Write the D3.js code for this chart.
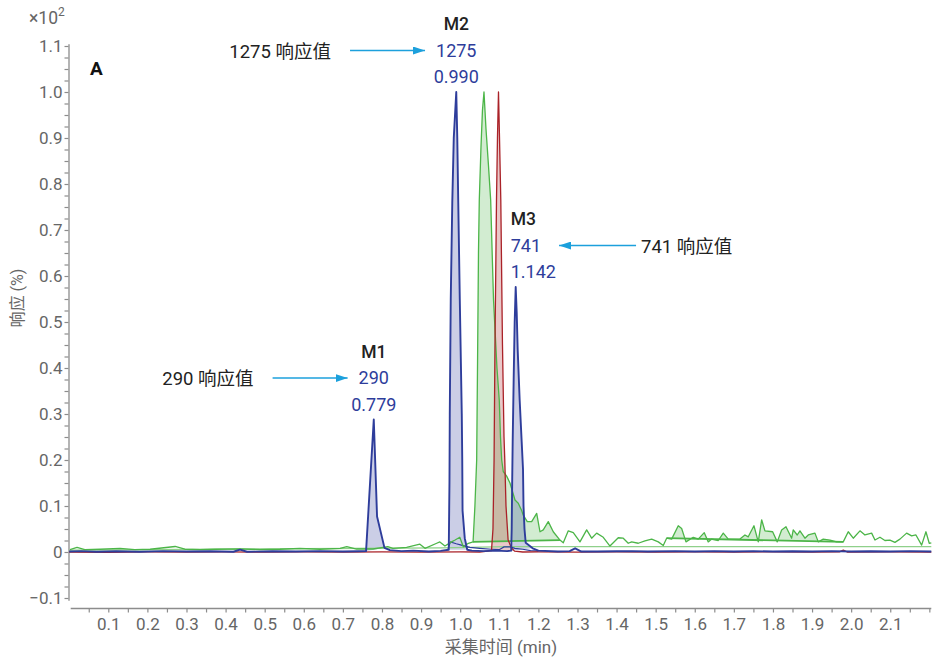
<!DOCTYPE html>
<html>
<head>
<meta charset="utf-8">
<script src="https://cdn.jsdelivr.net/npm/d3@7"></script>
<style>
  html, body { margin: 0; padding: 0; background: #fff; }
  svg { display: block; font-family: Roboto, "Noto Sans CJK SC", sans-serif; }
</style>
</head>
<body>
<svg id="chart" width="932" height="660"></svg>
<script>
// Retention time (min) / response (% of base peak) pairs for each trace
const traceBlue = [
  [0,0.1],[0.03,0.2],[0.07,0.05],[0.12,0.15],[0.18,0.05],[0.24,0.2],[0.3,0.1],[0.36,0.15],
  [0.42,0.05],[0.437,0.5],[0.455,0.05],[0.52,0.15],[0.58,0.1],[0.64,0.2],[0.7,0.1],[0.74,0.15],
  [0.7593,0.2],[0.779,28.8],[0.7874,7.7],[0.8064,0.9],[0.82,0.4],[0.85,0.2],[0.88,0.3],[0.92,0.1],
  [0.95,0.25],[0.9708,0.5],[0.9726,15],[0.9734,30],[0.9759,55],[0.9798,76],[0.9836,90],[0.990,100],
  [0.9926,90],[0.9951,76],[0.999,55],[1.0041,30],[1.0053,20],[1.0061,9],[1.0117,3],[1.0181,0.5],
  [1.03,0.3],[1.06,0.2],[1.09,0.3],[1.12,0.2],[1.1305,0.3],[1.1318,5],[1.133,15],[1.1343,24],
  [1.1369,38],[1.1394,50],[1.142,57.6],[1.1446,52],[1.1471,44],[1.1522,33],[1.1573,24],[1.1607,18],
  [1.162,10],[1.1645,5],[1.1676,2],[1.1855,0.8],[1.2,0.3],[1.25,0.1],[1.28,0.2],[1.294,0.8],
  [1.31,0.1],[1.35,0.1],[1.4,0.15],[1.44,0.2],[1.48,0.1],[1.55,0.2],[1.6,0.1],[1.65,0.2],[1.7,0.1],
  [1.75,0.2],[1.8,0.1],[1.85,0.15],[1.9,0.1],[1.95,0.2],[2.0,0.1],[2.05,0.15],[2.1,0.1],[2.15,0.2],[2.205,0.1]
];

const blueAux = [
  [0.968,0.4],[0.975,2.2],[0.99,1.8],[1.003,1.5],[1.025,1.0],[1.05,0.8],[1.08,0.6],[1.1,0.5],
  [1.112,1.1],[1.128,1.1],[1.14,0.8],[1.16,0.6],[1.18,0.3],[1.2,0.2]
];

const traceGreen = [
  [0.002,0.5],[0.02,1.0],[0.04,0.5],[0.079,0.6],[0.13,0.8],[0.168,0.5],[0.207,0.6],[0.271,1.2],
  [0.296,0.6],[0.335,0.5],[0.373,0.6],[0.437,0.7],[0.488,0.5],[0.539,0.6],[0.59,0.8],[0.641,0.6],
  [0.693,0.8],[0.71,1.15],[0.735,0.65],[0.777,0.65],[0.815,1.15],[0.828,0.8],[0.863,1.0],[0.897,1.7],
  [0.91,0.8],[0.94,1.9],[0.948,2.2],[0.961,1.3],[0.978,2.2],[0.987,2.6],[0.999,3.2],[1.008,1.15],
  [1.021,1.9],[1.033,2.2],[1.0377,10],[1.0422,20],[1.0443,40],[1.0468,65],[1.0489,76.5],[1.0532,88],
  [1.057,96],[1.0609,100],[1.066,92],[1.0724,84],[1.078,76.5],[1.0852,55],[1.0941,40],[1.1,33],
  [1.1031,25],[1.1062,20],[1.1102,17.5],[1.1189,16.5],[1.1274,15],[1.1402,11.3],[1.1486,10.6],
  [1.1573,9],[1.1614,8],[1.1716,6.6],[1.1829,6.6],[1.1957,8.4],[1.2041,4.4],[1.2125,4.8],[1.2253,6.6],
  [1.2381,4.4],[1.2552,2.6],[1.2637,2.0],[1.2765,4.6],[1.2893,4.2],[1.3064,2.2],[1.3235,4.8],
  [1.3363,3.0],[1.3491,4.1],[1.366,3.2],[1.3831,1.3],[1.4043,3.1],[1.4171,3.0],[1.4299,1.9],
  [1.4386,2.2],[1.4555,1.9],[1.4726,2.4],[1.4898,2.8],[1.5067,2.2],[1.5194,1.4],[1.5281,3.0],
  [1.5409,2.8],[1.5578,5.7],[1.5665,5.1],[1.5775,2.2],[1.5962,3.2],[1.6089,2.8],[1.6243,4.2],
  [1.6345,2.2],[1.6432,2.8],[1.6601,2.5],[1.6729,4.1],[1.6857,2.8],[1.7156,2.8],[1.7284,3.7],
  [1.7368,3.3],[1.7514,5.7],[1.7624,2.2],[1.7711,7.0],[1.7795,4.6],[1.7992,4.4],[1.811,2.2],
  [1.8222,4.8],[1.8333,5.5],[1.8478,3.0],[1.8519,4.8],[1.8621,3.7],[1.869,4.6],[1.8818,3.0],
  [1.8903,3.7],[1.9074,4.1],[1.9159,2.2],[1.9286,2.8],[1.9458,2.6],[1.963,2.2],[1.9798,2.2],
  [1.9926,4.4],[2.0054,3.0],[2.0225,4.6],[2.0353,3.7],[2.0524,4.1],[2.0609,2.6],[2.0737,3.2],
  [2.0864,2.5],[2.0992,2.6],[2.112,2.1],[2.1248,2.8],[2.1419,4.1],[2.1547,3.5],[2.1657,3.7],
  [2.1803,1.5],[2.1913,4.4],[2.1997,1.9],[2.205,2.0]
];

const greenReference = [[0,0.4],[0.95,0.9],[1.12,1.15],[2.205,1.15]];

const traceRed = [
  [0,0],[0.1,-0.05],[0.2,0.02],[0.3,-0.03],[0.4,0.02],[0.5,-0.03],[0.6,0.02],[0.7,-0.03],[0.8,0.02],
  [0.9,-0.03],[1.0,0.02],[1.05,0],[1.0801,0.3],[1.0839,5],[1.0867,20],[1.089,45],[1.0929,76.5],
  [1.0954,90],[1.098,100],[1.1006,90],[1.1039,76.5],[1.1082,45],[1.1121,25],[1.1141,20],[1.1172,10],
  [1.1226,2.6],[1.1312,0.9],[1.139,0.2],[1.16,0],[1.2,0.02],[1.3,-0.03],[1.4,0.02],[1.5,-0.03],
  [1.6,0.02],[1.7,-0.03],[1.8,0.02],[1.9,-0.03],[1.97,0.02],[1.98,0.4],[1.99,0],[2.1,0.02],[2.205,0]
];

// Integrated windows [start, end] (min)
const blueWindows = [[0.7593,0.8064],[0.9708,1.0181],[1.1305,1.1855]];
const greenWindows = [[1.033,1.2552],[1.5281,1.9798]];
const redWindows = [[1.0801,1.139]];

// Peak annotations
const peakNames = ["M1","M2","M3"];
const peakResponses = [290,1275,741];
const peakTimes = [0.779,0.990,1.142];

// Axis ticks
const xTickLabels = [0.1,0.2,0.3,0.4,0.5,0.6,0.7,0.8,0.9,1.0,1.1,1.2,1.3,1.4,1.5,1.6,1.7,1.8,1.9,2.0,2.1];
const yTickLabels = [-0.1,0,0.1,0.2,0.3,0.4,0.5,0.6,0.7,0.8,0.9,1.0,1.1];

const svg = d3.select("#chart");
const x = d3.scaleLinear().domain([0, 2.205]).range([69.2, 931.3]);
// y is expressed in units of ×10² %
const y = d3.scaleLinear().domain([-0.105, 1.105]).range([600.3, 43.7]);
const yv = v => y(v / 100);

const axisGrey = "#8c8c8c";
const textGrey = "#666";

// ---- axes ----
const xMinor = d3.range(1, 45).map(i => i * 0.05);
const xAxis = d3.axisBottom(x)
  .tickValues(xMinor)
  .tickSize(4).tickSizeOuter(0).tickPadding(5)
  .tickFormat(d => {
    const k = Math.round(d * 10) / 10;
    return (Math.abs(d * 10 - Math.round(d * 10)) < 1e-6 && xTickLabels.includes(k)) ? d3.format(".1f")(k) : "";
  });
const gx = svg.append("g").attr("transform", "translate(0,608.5)").call(xAxis);
gx.select(".domain").attr("d", `M${x(0) + 1.5},0H${x.range()[1]}`);

const yMinor = d3.range(-4, 45).map(i => i * 0.025);
const yAxis = d3.axisLeft(y)
  .tickValues(yMinor)
  .tickSize(4).tickSizeOuter(0).tickPadding(2)
  .tickFormat(d => {
    const k = Math.round(d * 10) / 10;
    if (Math.abs(d * 10 - Math.round(d * 10)) > 1e-6 || !yTickLabels.includes(k)) return "";
    return k === 0 ? "0" : d3.format(".1f")(k);
  });
const gy = svg.append("g").attr("transform", "translate(68.5,0)").call(yAxis);

[gx, gy].forEach(g => {
  g.select(".domain").attr("stroke", axisGrey).attr("stroke-width", 1.3);
  g.selectAll(".tick line").attr("stroke", axisGrey).attr("stroke-width", 1.2);
  g.selectAll(".tick text").attr("fill", textGrey)
    .style("font-family", "Roboto, sans-serif").style("font-size", "17px");
});

svg.append("text").attr("x", 501).attr("y", 653)
  .attr("text-anchor", "middle").attr("fill", textGrey)
  .style("font-size", "17px").text("采集时间 (min)");

svg.append("text")
  .attr("transform", "translate(23,298) rotate(-90)")
  .attr("text-anchor", "middle").attr("fill", textGrey)
  .style("font-size", "16px").text("响应 (%)");

const mult = svg.append("text").attr("x", 29).attr("y", 24).attr("fill", textGrey)
  .style("font-size", "17.5px");
mult.append("tspan").text("×10");
mult.append("tspan").attr("dy", -8).style("font-size", "12px").text("2");

svg.append("text").attr("x", 90).attr("y", 75).attr("fill", "#111")
  .style("font-size", "19px").style("font-weight", "bold").text("A");

// ---- traces ----
svg.append("clipPath").attr("id", "plotClip").append("rect")
  .attr("x", 69).attr("y", 40).attr("width", 863).attr("height", 562);
const plot = svg.append("g").attr("clip-path", "url(#plotClip)");

const line = d3.line().x(d => x(d[0])).y(d => yv(d[1]));

function windowArea(trace, win) {
  const pts = trace.filter(d => d[0] >= win[0] - 1e-9 && d[0] <= win[1] + 1e-9);
  const a = pts[0], b = pts[pts.length - 1];
  const base = t => a[1] + (b[1] - a[1]) * (t - a[0]) / (b[0] - a[0]);
  return { pts, a, b, base };
}

const series = [
  { data: traceGreen, windows: greenWindows, color: "#4cb548", width: 1.3, drawBase: true },
  { data: traceRed, windows: redWindows, color: "#aa2228", width: 1.3, drawBase: false },
  { data: traceBlue, windows: blueWindows, color: "#2e3d9b", width: 1.9, drawBase: false }
];

// filled areas first
series.forEach(s => {
  s.windows.forEach(w => {
    const wa = windowArea(s.data, w);
    const area = d3.area()
      .x(d => x(d[0])).y0(d => yv(wa.base(d[0]))).y1(d => yv(d[1]));
    plot.append("path").datum(wa.pts).attr("d", area)
      .attr("fill", s.color).attr("fill-opacity", 0.25).attr("stroke", "none");
  });
});

// reference line of the green channel
plot.append("path").datum(greenReference).attr("d", line)
  .attr("fill", "none").attr("stroke", "#8fd08a").attr("stroke-width", 1.3);

series.forEach(s => {
  if (s.drawBase) {
    s.windows.forEach(w => {
      const wa = windowArea(s.data, w);
      plot.append("path").datum([wa.a, wa.b]).attr("d", line)
        .attr("fill", "none").attr("stroke", s.color).attr("stroke-width", 1.8);
    });
  }
});

plot.append("path").datum(blueAux).attr("d", line)
  .attr("fill", "none").attr("stroke", "#2e3d9b").attr("stroke-width", 1.2);

series.forEach(s => {
  plot.append("path").datum(s.data).attr("d", line)
    .attr("fill", "none").attr("stroke", s.color).attr("stroke-width", s.width)
    .attr("stroke-linejoin", "round");
});

// ---- peak labels and callouts ----
const defs = svg.append("defs");
defs.append("marker").attr("id", "arrowHead")
  .attr("viewBox", "0 0 12 8").attr("refX", 12).attr("refY", 4)
  .attr("markerWidth", 12).attr("markerHeight", 8).attr("markerUnits", "userSpaceOnUse")
  .attr("orient", "auto")
  .append("path").attr("d", "M0,0L12,4L0,8Z").attr("fill", "#1ca0dc");

const labelAnchor = { M1: "middle", M2: "middle", M3: "start" };
const calloutSide = { M1: "left", M2: "left", M3: "right" };
const lineGap = 26.5;

peakNames.forEach((name, i) => {
  const rt = peakTimes[i];
  const apex = traceBlue.reduce((best, d) =>
    Math.abs(d[0] - rt) < 0.004 && d[1] > best[1] ? d : best, [rt, -1]);
  const ax = x(apex[0]), ay = yv(apex[1]);
  const anchor = labelAnchor[name];
  const lx = anchor === "start" ? ax - 5 : ax;
  const baseY = ay - 9;
  const g = svg.append("g").style("font-size", "18px");
  g.append("text").attr("x", lx).attr("y", baseY - 2 * lineGap)
    .attr("text-anchor", anchor).attr("fill", "#222").style("font-weight", 500)
    .style("font-size", "17.5px").text(name);
  const resp = g.append("text").attr("x", lx).attr("y", baseY - lineGap)
    .attr("text-anchor", anchor).attr("fill", "#2e3d9b").text(peakResponses[i]);
  g.append("text").attr("x", lx).attr("y", baseY)
    .attr("text-anchor", anchor).attr("fill", "#2e3d9b").text(d3.format(".3f")(rt));

  const bb = resp.node().getBBox();
  const cy = baseY - lineGap - 6;
  let tip, tail, tx, tAnchor;
  if (calloutSide[name] === "left") {
    tip = bb.x - 11; tail = tip - 75; tx = tail - 19; tAnchor = "end";
  } else {
    tip = bb.x + bb.width + 18; tail = tip + 77; tx = tail + 5; tAnchor = "start";
  }
  svg.append("line").attr("x1", tail).attr("y1", cy).attr("x2", tip).attr("y2", cy)
    .attr("stroke", "#1ca0dc").attr("stroke-width", 1.5).attr("marker-end", "url(#arrowHead)");
  svg.append("text").attr("x", tx).attr("y", cy + 7)
    .attr("text-anchor", tAnchor).attr("fill", "#222").style("font-size", "18.5px")
    .text(`${peakResponses[i]} 响应值`);
});
</script>
</body>
</html>
